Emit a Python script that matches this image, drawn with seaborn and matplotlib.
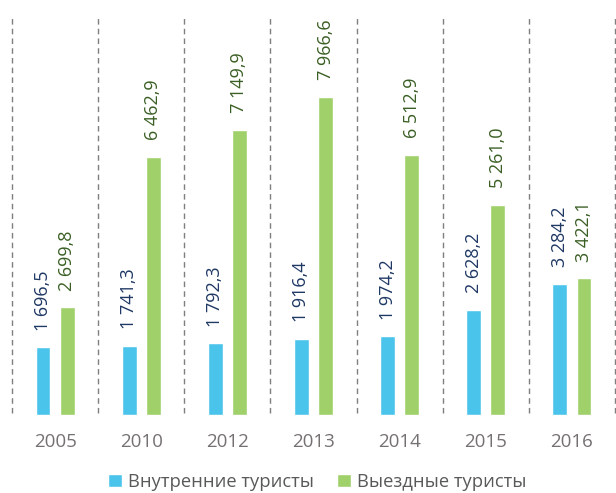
import matplotlib
matplotlib.use("Agg")
import matplotlib.pyplot as plt
import seaborn as sns
import pandas as pd

years = ["2005", "2010", "2012", "2013", "2014", "2015", "2016"]
domestic = [1696.5, 1741.3, 1792.3, 1916.4, 1974.2, 2628.2, 3284.2]
outbound = [2699.8, 6462.9, 7149.9, 7966.6, 6512.9, 5261.0, 3422.1]
series_names = ["Внутренние туристы", "Выездные туристы"]

bar_colors = ["#4BC4EC", "#A0D06A"]
label_colors = ["#1F3864", "#3A5F24"]

sns.set_theme(style="white")
plt.rcParams["font.family"] = ["Open Sans", "DejaVu Sans"]

df = pd.DataFrame({
    "year": years * 2,
    "value": domestic + outbound,
    "series": [series_names[0]] * len(years) + [series_names[1]] * len(years),
})

fig = plt.figure(figsize=(6.16, 4.93), dpi=100)
ax = fig.add_axes([12 / 616, (493 - 415) / 493, (615 - 12) / 616, (415 - 15) / 493])

sns.barplot(data=df, x="year", y="value", hue="series", order=years,
            hue_order=series_names, palette=bar_colors, width=0.56, gap=0.38,
            saturation=1, ax=ax, legend=True)

ax.set_xlim(-0.5, len(years) - 0.5)
ax.set_ylim(0, 10025)

for cont, col in zip(ax.containers, label_colors):
    vals = [b.get_height() for b in cont]
    labels = [f"{v:,.1f}".replace(",", " ").replace(".", ",") for v in vals]
    ax.bar_label(cont, labels=labels, rotation=90, padding=12, color=col, fontsize=13)

for i in range(len(years) + 1):
    ax.axvline(i - 0.5, ymin=0.005, ymax=1.0, color="#7F7F7F", linestyle=(0, (4, 3)),
               linewidth=1, clip_on=False)

for s in ax.spines.values():
    s.set_visible(False)
ax.set_yticks([])
ax.set_xlabel("")
ax.set_ylabel("")
ax.tick_params(axis="x", length=0, pad=13, labelsize=13.5, labelcolor="#767171")

handles, labs = ax.get_legend_handles_labels()
ax.legend_.remove()
fig.legend(handles, labs, loc="center", bbox_to_anchor=(0.515, 0.022), ncol=2,
           frameon=False, fontsize=13.2, labelcolor="#595959", handlelength=0.75,
           handleheight=0.75, handletextpad=0.3, columnspacing=1.3)

fig.savefig("out.png", dpi=100)
